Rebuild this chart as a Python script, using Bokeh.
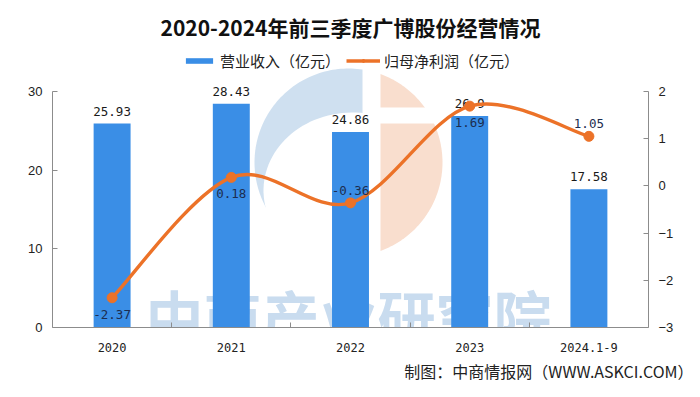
import numpy as np
from bokeh.plotting import figure
from bokeh.models import (Range1d, LinearAxis, FixedTicker, Label, Legend, LegendItem,
                          PolyAnnotation, ColumnDataSource, Title)
from bokeh.core.properties import value
from bokeh.embed import file_html
from bokeh.resources import INLINE

# ---------------- data ----------------
years = ["2020", "2021", "2022", "2023", "2024.1-9"]
revenue = [25.93, 28.43, 24.86, 26.9, 17.58]          # 营业收入（亿元）
net_profit = [-2.37, 0.18, -0.36, 1.69, 1.05]          # 归母净利润（亿元）
rev_ticks = [0, 10, 20, 30]
np_ticks = [-3, -2, -1, 0, 1, 2]
net_label_side = ["below", "below", "above", "below", "above"]

title_text = "2020-2024年前三季度广博股份经营情况"
rev_name = "营业收入（亿元）"
np_name = "归母净利润（亿元）"
source_text = "制图：中商情报网（WWW.ASKCI.COM）"
watermark = "中商产业研究院"

BLUE = "#3A8EE6"
ORANGE = "#EC7228"
AXIS = "#8c8c8c"
CJK = "Noto Sans CJK SC"

W, H = 700, 397
FL, FR, FB = 52, 648, 327     # frame left / right / bottom (pixels)
AX_TOP = 91                   # pixel where the axes end (top tick)
FT = 46                       # frame top (room for legend, labels, logo)
ext = (FB - FT) / (FB - AX_TOP)

p = figure(width=W, height=H, output_backend="svg", toolbar_location=None,
           x_range=Range1d(-0.5, len(years) - 0.5),
           y_range=Range1d(rev_ticks[0], rev_ticks[0] + (rev_ticks[-1] - rev_ticks[0]) * ext),
           min_border_left=FL, min_border_right=W - FR, min_border_top=FT, min_border_bottom=H - FB,
           x_axis_type=None, y_axis_type=None)
p.outline_line_color = None
p.grid.visible = False
p.background_fill_color = "white"
p.border_fill_color = "white"
p.extra_y_ranges = {"np": Range1d(np_ticks[0], np_ticks[0] + (np_ticks[-1] - np_ticks[0]) * ext)}

xs = np.arange(len(years), dtype=float)

# ---------------- axes ----------------
xaxis = LinearAxis(ticker=FixedTicker(ticks=list(xs), minor_ticks=list(xs[:-1] + 0.5)))
xaxis.major_label_overrides = {int(i): y for i, y in enumerate(years)}
xaxis.axis_line_color = AXIS
xaxis.major_tick_line_color = None
xaxis.minor_tick_line_color = AXIS
xaxis.minor_tick_in = 5
xaxis.minor_tick_out = 0
xaxis.major_label_standoff = 9
xaxis.major_label_text_font = "DejaVu Sans Mono"
xaxis.major_label_text_font_size = "12px"
xaxis.major_label_text_color = "#222222"

yl = LinearAxis(ticker=FixedTicker(ticks=rev_ticks, minor_ticks=[]), bounds=(rev_ticks[0], rev_ticks[-1]))
yr = LinearAxis(ticker=FixedTicker(ticks=np_ticks, minor_ticks=[]), y_range_name="np",
                bounds=(np_ticks[0], np_ticks[-1]))
for ax in (yl, yr):
    ax.axis_line_color = AXIS
    ax.major_tick_line_color = AXIS
    ax.major_tick_in = 5
    ax.major_tick_out = 0
    ax.minor_tick_line_color = None
    ax.major_label_standoff = 10
    ax.major_label_text_font = "Liberation Sans"
    ax.major_label_text_font_size = "13px"
    ax.major_label_text_color = "#222222"
p.add_layout(yl, "left")
p.add_layout(yr, "right")
p.add_layout(xaxis, "below")

# ---------------- watermark / logo (decoration, screen units) ----------------
def scr(X, Y):
    return list(np.asarray(X, dtype=float) - FL), list(FB - np.asarray(Y, dtype=float))


def poly(X, Y, color):
    sx, sy = scr(X, Y)
    p.add_layout(PolyAnnotation(xs=sx, ys=sy, xs_units="screen", ys_units="screen",
                                fill_color=color, fill_alpha=1, line_color=None, level="underlay"))


cx, cy, R = 348.0, 162.0, 94.0
a0 = np.arccos((362 - cx) / R)
t = np.linspace(a0, 2 * np.pi - a0, 120)
poly(cx + R * np.cos(t), cy - R * np.sin(t), "#CFE0F0")
t = np.linspace(0, 2 * np.pi, 120)
poly(352 + 89 * np.cos(t), 190 + 78 * np.sin(t), "white")
a1 = np.arccos((380 - cx) / R)
t = np.linspace(-a1, a1, 120)
poly(cx + R * np.cos(t), cy - R * np.sin(t), "#F9DECE")
poly([378, 445, 445, 378], [107, 107, 123, 123], "white")

wm_x, wm_y = scr([348], [314])
p.add_layout(Label(x=wm_x[0], y=wm_y[0], x_units="screen", y_units="screen", text=watermark,
                   text_font=CJK, text_font_size="58px", text_font_style="bold",
                   text_color="#C9DCEF", text_align="center", text_baseline="middle",
                   level="underlay"))

# ---------------- bars ----------------
bar_src = ColumnDataSource(dict(x=xs, top=revenue, lab=[f"{v:g}" for v in revenue]))
bars = p.vbar(x="x", top="top", width=0.31, bottom=0, source=bar_src,
              fill_color=BLUE, line_color=None)
p.text(x="x", y="top", text="lab", source=bar_src, text_align="center", text_baseline="bottom",
       y_offset=-8, text_font=value("DejaVu Sans Mono"), text_font_size="12.5px",
       text_color="#1a1a1a")

# ---------------- smooth line (Catmull-Rom as cubic Bezier) ----------------
yv = np.array(net_profit, dtype=float)
xp = np.concatenate([[xs[0]], xs, [xs[-1]]])
yp = np.concatenate([[yv[0]], yv, [yv[-1]]])
n = len(xs)
cx0 = [xp[i + 1] + (xp[i + 2] - xp[i]) / 6 for i in range(n - 1)]
cy0 = [yp[i + 1] + (yp[i + 2] - yp[i]) / 6 for i in range(n - 1)]
cx1 = [xp[i + 2] - (xp[i + 3] - xp[i + 1]) / 6 for i in range(n - 1)]
cy1 = [yp[i + 2] - (yp[i + 3] - yp[i + 1]) / 6 for i in range(n - 1)]
bz_src = ColumnDataSource(dict(x0=xs[:-1], y0=yv[:-1], x1=xs[1:], y1=yv[1:],
                               cx0=cx0, cy0=cy0, cx1=cx1, cy1=cy1))
curve = p.bezier(x0="x0", y0="y0", x1="x1", y1="y1", cx0="cx0", cy0="cy0", cx1="cx1", cy1="cy1",
                 source=bz_src, line_color=ORANGE, line_width=3.4, y_range_name="np")
pts = p.scatter(xs, yv, size=10, fill_color=ORANGE, line_color=ORANGE, y_range_name="np")

below = [i for i, s in enumerate(net_label_side) if s == "below"]
above = [i for i, s in enumerate(net_label_side) if s == "above"]
for idx, base, off in ((below, "top", 12), (above, "bottom", -8)):
    p.text(x=[xs[i] for i in idx], y=[net_profit[i] for i in idx],
           text=[f"{net_profit[i]:g}" for i in idx], y_range_name="np",
           text_align="center", text_baseline=base, y_offset=off,
           text_font=value("DejaVu Sans Mono"), text_font_size="12.5px", text_color="#1c2d50")

# ---------------- title, legend, source ----------------
p.title.text = title_text
p.title.align = "center"
p.title.text_font = CJK
p.title.text_font_size = "21px"
p.title.text_font_style = "bold"
p.title.text_color = "#111111"

legend = Legend(items=[LegendItem(label=rev_name, renderers=[bars]),
                       LegendItem(label=np_name, renderers=[curve, pts])],
                orientation="horizontal", location=(182 - FL, FB - 71),
                glyph_width=34, glyph_height=7, label_height=20, label_standoff=4,
                spacing=6, padding=0, margin=0, border_line_color=None,
                background_fill_alpha=0, label_text_font=CJK, label_text_font_size="15px",
                label_text_color="#222222")
p.add_layout(legend)

p.add_layout(Title(text=source_text, align="right", text_font=CJK, text_font_size="16px",
                   text_font_style="normal", text_color="#222222", offset=-45, standoff=5), "below")

open("out.html", "w").write(file_html(p, INLINE))
